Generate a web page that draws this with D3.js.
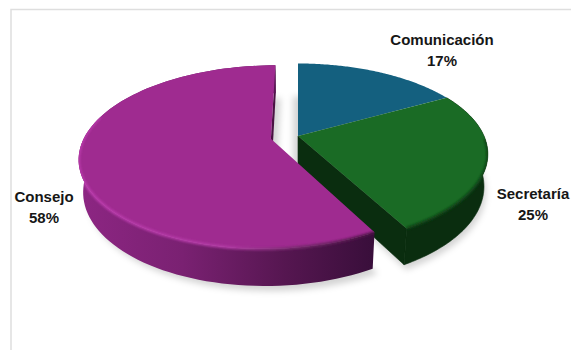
<!DOCTYPE html>
<html>
<head>
<meta charset="utf-8">
<script src="https://cdn.jsdelivr.net/npm/d3@7"></script>
<style>
  html, body { margin: 0; padding: 0; background: #fff; }
  text { font-family: "Liberation Sans", Arial, sans-serif; font-weight: 700; font-size: 15px; fill: #161616; }
</style>
</head>
<body>
<svg id="chart" width="571" height="350"></svg>
<script>
// Budget shares per area
const categories = ["Comunicación", "Secretaría", "Consejo"];
const shares = [17, 25, 58];

const topColors = ["#14607f", "#1a6b25", "#9f2b90"];
const wallColors = ["#0a3040", "#0a2d0f", "#4a1243"];

// Where each label sits, in page pixels
const labelX = [442, 533, 44];
const labelY = [45, 199, 202];

const svg = d3.select("#chart");
const defs = svg.append("defs");

// Perspective view of the pie disc: u, v on the unit disc, h = 0 top, 1 bottom
const view = { cx: 298, cy: 136, rx: 186, ry: 87, tilt: 0.2, drop: 32.5, recede: 0.02 };
function project(u, v, h) {
  const w = 1 - view.tilt * v + view.recede * h;
  return [view.cx + view.rx * u / w, view.cy + (view.ry * v + view.drop * h) / w];
}

// The large slice is pulled out of the disc by this offset
const offsets = [[0, 0], [0, 0], [-0.145, 0.03]];
// Sideways shift of each slice's soft shadow
const shadowShift = [-5, 2, 5];

const slices = d3.pie().sort(null).startAngle(0).endAngle(2 * Math.PI)(shares);

function pointAt(i, angle, radius, h) {
  const [du, dv] = offsets[i];
  return project(du + radius * Math.sin(angle), dv - radius * Math.cos(angle), h);
}
function arcPoints(i, a0, a1, h) {
  return d3.range(0, 101).map(k => pointAt(i, a0 + (a1 - a0) * k / 100, 1, h));
}

const line = d3.line();
const closed = d3.line().curve(d3.curveLinearClosed);

const facePoints = (d, i) => [pointAt(i, 0, 0, 0), ...arcPoints(i, d.startAngle, d.endAngle, 0)];

function sidePoints(i, a0, a1) {
  return [...arcPoints(i, a0, a1, 0), ...arcPoints(i, a1, a0, 1)];
}
function wallPoints(i, angle) {
  return [pointAt(i, angle, 0, 0), pointAt(i, angle, 1, 0), pointAt(i, angle, 1, 1), pointAt(i, angle, 0, 1)];
}

// Soft blurs for the cast shadow and the rim bevel
defs.append("filter").attr("id", "soft").attr("x", "-20%").attr("y", "-20%").attr("width", "140%").attr("height", "140%")
  .append("feGaussianBlur").attr("stdDeviation", 3.2);
defs.append("filter").attr("id", "rim").attr("x", "-10%").attr("y", "-10%").attr("width", "120%").attr("height", "120%")
  .append("feGaussianBlur").attr("stdDeviation", 1.2);

function hGradient(id, stops) {
  const g = defs.append("linearGradient").attr("id", id)
    .attr("gradientUnits", "userSpaceOnUse").attr("x1", 78).attr("x2", 376).attr("y1", 0).attr("y2", 0);
  stops.forEach(([o, c]) => g.append("stop").attr("offset", o).attr("stop-color", c));
}
hGradient("sidePurple", [[0, "#8d2683"], [0.35, "#7a2172"], [0.7, "#551650"], [1, "#380e3a"]]);
hGradient("rimPurple", [[0, "#bb3bad"], [0.5, "#b23aa5"], [0.72, "#7a2a70"], [1, "#4a1243"]]);

const [comm, secr, cons] = slices;
const deg = Math.PI / 180;

// Frame around the plot
const frame = svg.append("g").attr("fill", "none").attr("stroke", "#dedede").attr("stroke-width", 1.5);
frame.append("path").attr("d", line([[11, 350], [11, 9.5], [571, 9.5]]));

// Soft shadow cast by the disc's lower plane
const shadow = svg.append("g").attr("filter", "url(#soft)").attr("fill", "#000").attr("fill-opacity", 0.17);
slices.forEach((d, i) => {
  shadow.append("path").attr("transform", `translate(${shadowShift[i]},5)`)
    .attr("d", closed(arcPoints(i, d.startAngle, d.endAngle, 1).concat([pointAt(i, 0, 0, 1)])));
});

// Green slice: the cut wall and the outer wall, stroked to close the seam at the corner
const greenWalls = svg.append("g").attr("fill", wallColors[1]).attr("stroke", wallColors[1]).attr("stroke-width", 0.6);
greenWalls.append("path").attr("d", closed(wallPoints(1, secr.endAngle)));
greenWalls.append("path").attr("d", closed(sidePoints(1, secr.startAngle, secr.endAngle)));

// Purple slice: thin wall along its upper cut, then the outer wall
svg.append("path").attr("fill", wallColors[2]).attr("d", closed(wallPoints(2, cons.endAngle)));
svg.append("path").attr("fill", "url(#sidePurple)").attr("d", closed(sidePoints(2, cons.startAngle, cons.endAngle)));

// Top faces
slices.forEach((d, i) => {
  svg.append("path").attr("fill", topColors[i]).attr("d", closed(facePoints(d, i)));
});

// Bevel between faces and walls, kept inside each slice's outline
function outline(id, i, d) {
  defs.append("clipPath").attr("id", id).selectAll("path")
    .data([facePoints(d, i), sidePoints(i, d.startAngle, d.endAngle)])
    .join("path").attr("d", closed);
}
outline("clipPurple", 2, cons);
outline("clipGreen", 1, secr);

const purpleRim = svg.append("g").attr("clip-path", "url(#clipPurple)");
purpleRim.append("path").attr("fill", "none").attr("filter", "url(#rim)")
  .attr("stroke", "url(#rimPurple)").attr("stroke-width", 2.8)
  .attr("d", line(arcPoints(2, cons.startAngle, 285 * deg, 0)));

const greenRim = svg.append("g").attr("clip-path", "url(#clipGreen)");
greenRim.append("path").attr("fill", "none").attr("filter", "url(#rim)")
  .attr("stroke", "#0d3f16").attr("stroke-width", 3)
  .attr("d", line(arcPoints(1, 92 * deg, secr.endAngle, 0)));

// Share labels, name above percentage
const labels = svg.append("g").attr("text-anchor", "middle");
categories.forEach((name, i) => {
  labels.append("text").attr("x", labelX[i]).attr("y", labelY[i]).text(name);
  labels.append("text").attr("x", labelX[i]).attr("y", labelY[i] + 21).text(shares[i] + "%");
});
</script>
</body>
</html>
